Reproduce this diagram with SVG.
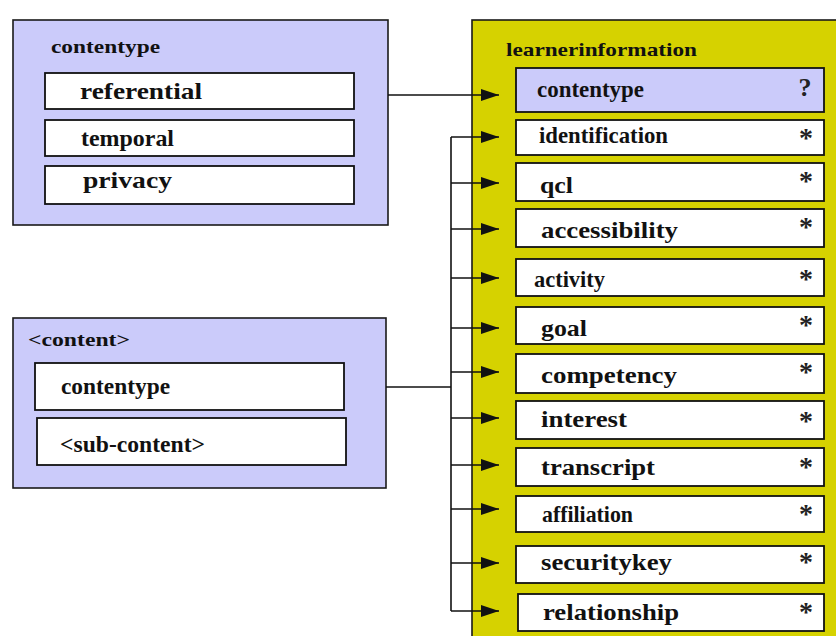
<svg xmlns="http://www.w3.org/2000/svg" width="836" height="636" viewBox="0 0 836 636">
  <defs>
    <marker id="arrow" viewBox="0 0 18 12" refX="18" refY="6" markerWidth="18" markerHeight="12" markerUnits="userSpaceOnUse" orient="auto">
      <path d="M0,0 L18,6 L0,12 Z" fill="#111"/>
    </marker>
    <style>
      .outer-blue { fill: #cbcbfa; stroke: #1a1a1a; stroke-width: 1.6; }
      .outer-yellow { fill: #d6d200; stroke: #1a1a1a; stroke-width: 1.6; }
      .item { fill: #ffffff; stroke: #111; stroke-width: 1.8; }
      .item-blue { fill: #cbcbfa; stroke: #111; stroke-width: 1.8; }
      .title { font-family: "Liberation Serif", "Times New Roman", serif; font-weight: bold; font-size: 19px; fill: #111; }
      .label { font-family: "Liberation Serif", "Times New Roman", serif; font-weight: bold; font-size: 24px; fill: #111; }
      .mult { font-family: "Liberation Serif", "Times New Roman", serif; font-weight: bold; font-size: 28px; fill: #222; text-anchor: middle; }
      .wire { fill: none; stroke: #111; stroke-width: 1.6; }
    </style>
  </defs>

  <rect width="836" height="636" fill="#ffffff"/>

  <!-- contentype vocabulary -->
  <g id="contentype-def">
    <rect class="outer-blue" x="13" y="20" width="375" height="205"/>
    <text class="title" x="51" y="53" textLength="109" lengthAdjust="spacingAndGlyphs">contentype</text>
    <rect class="item" x="45" y="73" width="309" height="36"/>
    <text class="label" x="80" y="99" textLength="122" lengthAdjust="spacingAndGlyphs">referential</text>
    <rect class="item" x="45" y="120" width="309" height="36"/>
    <text class="label" x="81" y="146" textLength="93" lengthAdjust="spacingAndGlyphs">temporal</text>
    <rect class="item" x="45" y="166" width="309" height="38"/>
    <text class="label" x="83" y="188" textLength="89" lengthAdjust="spacingAndGlyphs">privacy</text>
  </g>

  <!-- generic content element -->
  <g id="content-def">
    <rect class="outer-blue" x="13" y="318" width="373" height="170"/>
    <text class="title" x="28" y="346" textLength="102" lengthAdjust="spacingAndGlyphs">&lt;content&gt;</text>
    <rect class="item" x="35" y="363" width="309" height="47"/>
    <text class="label" x="61" y="394" textLength="109" lengthAdjust="spacingAndGlyphs">contentype</text>
    <rect class="item" x="37" y="418" width="309" height="47"/>
    <text class="label" x="60" y="452" textLength="145" lengthAdjust="spacingAndGlyphs">&lt;sub-content&gt;</text>
  </g>

  <!-- learnerinformation container -->
  <g id="learnerinformation">
    <rect class="outer-yellow" x="472" y="20" width="380" height="630"/>
    <text class="title" x="506" y="56" textLength="191" lengthAdjust="spacingAndGlyphs">learnerinformation</text>
  </g>

  <g id="li-contentype">
    <rect class="item-blue" x="516" y="68" width="308" height="44"/>
    <text class="label" x="537" y="97" textLength="107" lengthAdjust="spacingAndGlyphs">contentype</text>
    <text class="mult" x="805" y="96" style="font-size:26px">?</text>
  </g>
  <g id="li-identification">
    <rect class="item" x="516" y="120" width="308" height="35"/>
    <text class="label" x="539" y="143" textLength="129" lengthAdjust="spacingAndGlyphs">identification</text>
    <text class="mult" x="806" y="147">*</text>
  </g>
  <g id="li-qcl">
    <rect class="item" x="516" y="163" width="308" height="38"/>
    <text class="label" x="540" y="193" textLength="33" lengthAdjust="spacingAndGlyphs">qcl</text>
    <text class="mult" x="806" y="190">*</text>
  </g>
  <g id="li-accessibility">
    <rect class="item" x="516" y="209" width="308" height="38"/>
    <text class="label" x="541" y="238" textLength="137" lengthAdjust="spacingAndGlyphs">accessibility</text>
    <text class="mult" x="806" y="236">*</text>
  </g>
  <g id="li-activity">
    <rect class="item" x="516" y="259" width="308" height="37"/>
    <text class="label" x="534" y="287" textLength="71" lengthAdjust="spacingAndGlyphs">activity</text>
    <text class="mult" x="806" y="288">*</text>
  </g>
  <g id="li-goal">
    <rect class="item" x="516" y="307" width="308" height="37"/>
    <text class="label" x="541" y="336" textLength="46" lengthAdjust="spacingAndGlyphs">goal</text>
    <text class="mult" x="806" y="334">*</text>
  </g>
  <g id="li-competency">
    <rect class="item" x="516" y="354" width="308" height="39"/>
    <text class="label" x="541" y="383" textLength="136" lengthAdjust="spacingAndGlyphs">competency</text>
    <text class="mult" x="806" y="381">*</text>
  </g>
  <g id="li-interest">
    <rect class="item" x="516" y="401" width="308" height="38"/>
    <text class="label" x="541" y="427" textLength="86" lengthAdjust="spacingAndGlyphs">interest</text>
    <text class="mult" x="806" y="430">*</text>
  </g>
  <g id="li-transcript">
    <rect class="item" x="516" y="448" width="308" height="38"/>
    <text class="label" x="541" y="475" textLength="114" lengthAdjust="spacingAndGlyphs">transcript</text>
    <text class="mult" x="806" y="476">*</text>
  </g>
  <g id="li-affiliation">
    <rect class="item" x="516" y="496" width="308" height="36"/>
    <text class="label" x="542" y="522" textLength="91" lengthAdjust="spacingAndGlyphs">affiliation</text>
    <text class="mult" x="806" y="523">*</text>
  </g>
  <g id="li-securitykey">
    <rect class="item" x="516" y="546" width="308" height="37"/>
    <text class="label" x="541" y="570" textLength="131" lengthAdjust="spacingAndGlyphs">securitykey</text>
    <text class="mult" x="806" y="571">*</text>
  </g>
  <g id="li-relationship">
    <rect class="item" x="518" y="594" width="306" height="37"/>
    <text class="label" x="543" y="620" textLength="136" lengthAdjust="spacingAndGlyphs">relationship</text>
    <text class="mult" x="806" y="621">*</text>
  </g>

  <!-- connectors -->
  <g id="connectors">
    <path class="wire" d="M388,95 H499" marker-end="url(#arrow)"/>
    <path class="wire" d="M386,387 H451"/>
    <path class="wire" d="M451,137 V611"/>
    <path class="wire" d="M451,137 H499" marker-end="url(#arrow)"/>
    <path class="wire" d="M451,183 H499" marker-end="url(#arrow)"/>
    <path class="wire" d="M451,229 H499" marker-end="url(#arrow)"/>
    <path class="wire" d="M451,278 H499" marker-end="url(#arrow)"/>
    <path class="wire" d="M451,328 H499" marker-end="url(#arrow)"/>
    <path class="wire" d="M451,372 H499" marker-end="url(#arrow)"/>
    <path class="wire" d="M451,418 H499" marker-end="url(#arrow)"/>
    <path class="wire" d="M451,465 H499" marker-end="url(#arrow)"/>
    <path class="wire" d="M451,509 H499" marker-end="url(#arrow)"/>
    <path class="wire" d="M451,563 H499" marker-end="url(#arrow)"/>
    <path class="wire" d="M451,611 H499" marker-end="url(#arrow)"/>
  </g>
</svg>
